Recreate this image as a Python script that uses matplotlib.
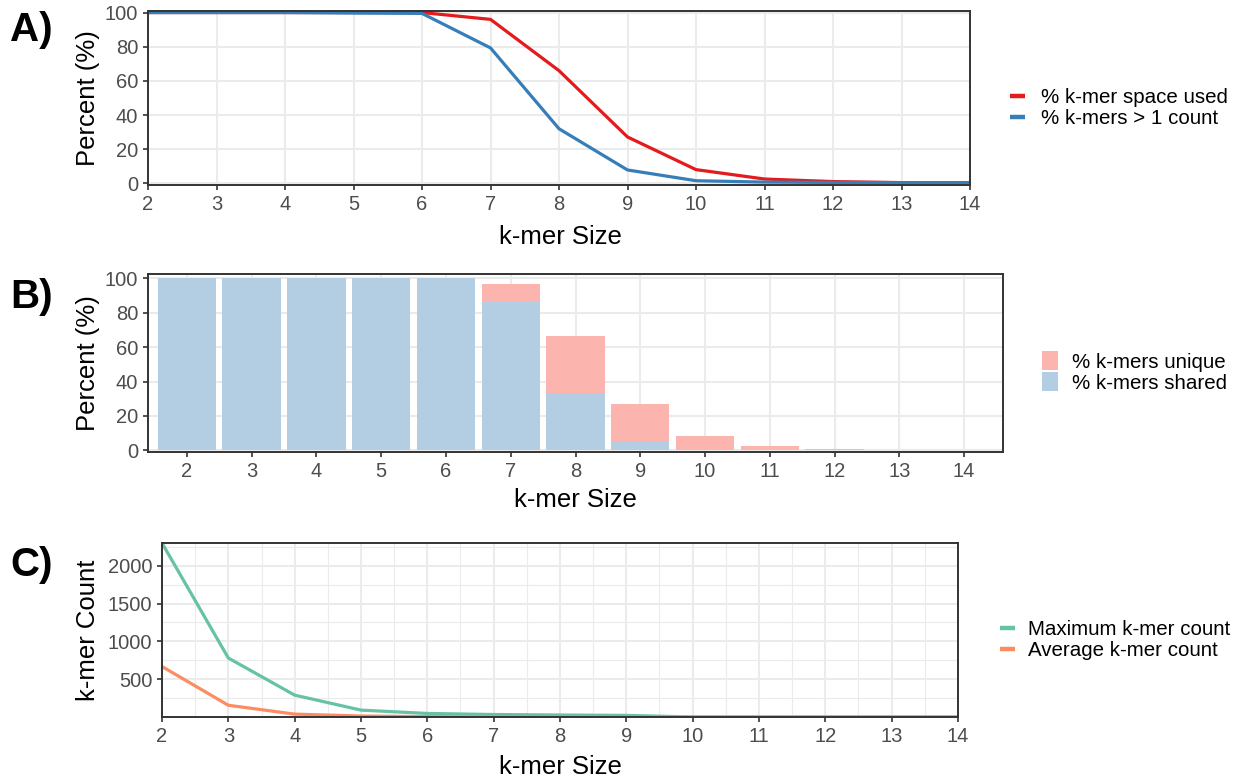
import matplotlib
matplotlib.use("Agg")
import matplotlib.pyplot as plt
import numpy as np
from matplotlib.lines import Line2D
from matplotlib.patches import Patch

plt.rcParams['font.family'] = ['Liberation Sans', 'DejaVu Sans']

# ---------------- data ----------------
kmer_sizes = [2, 3, 4, 5, 6, 7, 8, 9, 10, 11, 12, 13, 14]

# Panel A
pct_space_used = [100, 100, 100, 100, 100, 96.0, 66.0, 27.2, 8.1, 2.6, 1.1, 0.5, 0.5]
pct_gt1_count = [100, 100, 100, 99.7, 99.5, 79.3, 32.0, 7.9, 1.6, 0.8, 0.6, 0.5, 0.5]

# Panel B
pct_shared = [100, 100, 100, 100, 100, 86.2, 33.1, 5.5, 0.6, 0.1, 0, 0, 0]
pct_unique = [0, 0, 0, 0, 0, 10.7, 33.4, 21.7, 7.9, 2.5, 0.8, 0.2, 0.05]

# Panel C
max_count = [2300, 780, 290, 92, 48, 34, 27, 22, 1, 1, 1, 1, 1]
avg_count = [668, 156, 39, 14, 6, 3, 2, 1.5, 1, 1, 1, 1, 1]

labels_A = ['% k-mer space used', '% k-mers > 1 count']
labels_B = ['% k-mers unique', '% k-mers shared']
labels_C = ['Maximum k-mer count', 'Average k-mer count']

col_A = ['#E41A1C', '#377EB8']
col_B = ['#FBB4AE', '#B3CDE3']
col_C = ['#66C2A5', '#FC8D62']

# ---------------- layout helpers ----------------
W, H = 1238, 782
fig = plt.figure(figsize=(W / 100, H / 100), dpi=100)


def rect(l, t, r, b):
    return [l / W, 1 - b / H, (r - l) / W, (b - t) / H]


def fx(x):
    return x / W


def fy(y):
    return 1 - y / H


GRID = '#EBEBEB'
DARK = '#333333'
TICKC = '#4D4D4D'
TICK_FS = 14.5
TITLE_FS = 18.5
LEG_FS = 14.8


def style(ax):
    ax.set_facecolor('white')
    for s in ax.spines.values():
        s.set_color(DARK)
        s.set_linewidth(1.4)
    ax.tick_params(axis='both', length=3.5, width=1.2, color=DARK,
                   labelcolor=TICKC, labelsize=TICK_FS, pad=3.5)
    ax.set_axisbelow(True)


def labels(xl_xy, yl_xy, letter, letter_y):
    fig.text(fx(xl_xy[0]), fy(xl_xy[1]), 'k-mer Size', fontsize=TITLE_FS,
             ha='center', va='center', color='black')
    fig.text(fx(yl_xy[0]), fy(yl_xy[1]), yl_xy[2], fontsize=TITLE_FS,
             ha='center', va='center', rotation=90, color='black')
    fig.text(fx(10), fy(letter_y), letter, fontsize=29,
             fontweight='bold', ha='left', va='center', color='black')


# ---------------- Panel A ----------------
axA = fig.add_axes(rect(148, 11, 970, 185))
style(axA)
axA.plot(kmer_sizes, pct_space_used, color=col_A[0], lw=2.3, solid_capstyle='butt')
axA.plot(kmer_sizes, pct_gt1_count, color=col_A[1], lw=2.3, solid_capstyle='butt')
axA.set_xlim(2, 14)
axA.set_ylim(-0.9, 100.9)
axA.set_xticks(kmer_sizes)
axA.set_yticks([0, 20, 40, 60, 80, 100])
axA.grid(True, which='major', color=GRID, lw=1.5)
labels((560, 237), (88, 98, 'Percent (%)'), 'A)', 30)
hA = [Line2D([], [], color=c, lw=3.2, solid_capstyle='butt') for c in col_A]
fig.legend(hA, labels_A, loc='center left', bbox_to_anchor=(fx(1010), fy(108)),
           frameon=False, fontsize=LEG_FS, handlelength=0.75, handletextpad=0.75,
           labelspacing=0.12, borderpad=0, borderaxespad=0)

# ---------------- Panel B ----------------
axB = fig.add_axes(rect(148, 274, 1003, 452))
style(axB)
axB.bar(kmer_sizes, pct_shared, width=0.9, color=col_B[1], zorder=2)
axB.bar(kmer_sizes, pct_unique, bottom=pct_shared, width=0.9, color=col_B[0], zorder=2)
axB.set_xlim(1.4, 14.6)
axB.set_ylim(-1.0, 102.6)
axB.set_xticks(kmer_sizes)
axB.set_yticks([0, 20, 40, 60, 80, 100])
axB.grid(True, which='major', color=GRID, lw=1.5, zorder=0)
labels((575, 500), (88, 363, 'Percent (%)'), 'B)', 297)
hB = [Patch(facecolor=c, edgecolor='none') for c in col_B]
fig.legend(hB, labels_B, loc='center left', bbox_to_anchor=(fx(1042), fy(372)),
           frameon=False, fontsize=LEG_FS, handlelength=0.8, handleheight=1.05,
           handletextpad=0.65, labelspacing=0.02, borderpad=0, borderaxespad=0)

# ---------------- Panel C ----------------
axC = fig.add_axes(rect(162, 543, 958, 717))
style(axC)
axC.plot(kmer_sizes, max_count, color=col_C[0], lw=2.3)
axC.plot(kmer_sizes, avg_count, color=col_C[1], lw=2.3)
axC.set_xlim(2, 14)
axC.set_ylim(min(avg_count), max(max_count))
axC.set_xticks(kmer_sizes)
axC.set_xticks(np.arange(2.5, 14, 1.0), minor=True)
axC.set_yticks([500, 1000, 1500, 2000])
axC.set_yticks([250, 750, 1250, 1750, 2250], minor=True)
axC.tick_params(which='minor', length=0)
axC.grid(True, which='major', color=GRID, lw=1.5)
axC.grid(True, which='minor', color=GRID, lw=0.8)
labels((560, 767), (88, 630, 'k-mer Count'), 'C)', 565)
hC = [Line2D([], [], color=c, lw=3.2, solid_capstyle='butt') for c in col_C]
fig.legend(hC, labels_C, loc='center left', bbox_to_anchor=(fx(1000), fy(640)),
           frameon=False, fontsize=LEG_FS, handlelength=0.72, handletextpad=0.65,
           labelspacing=0.12, borderpad=0, borderaxespad=0)

fig.savefig('out.png', dpi=100)
